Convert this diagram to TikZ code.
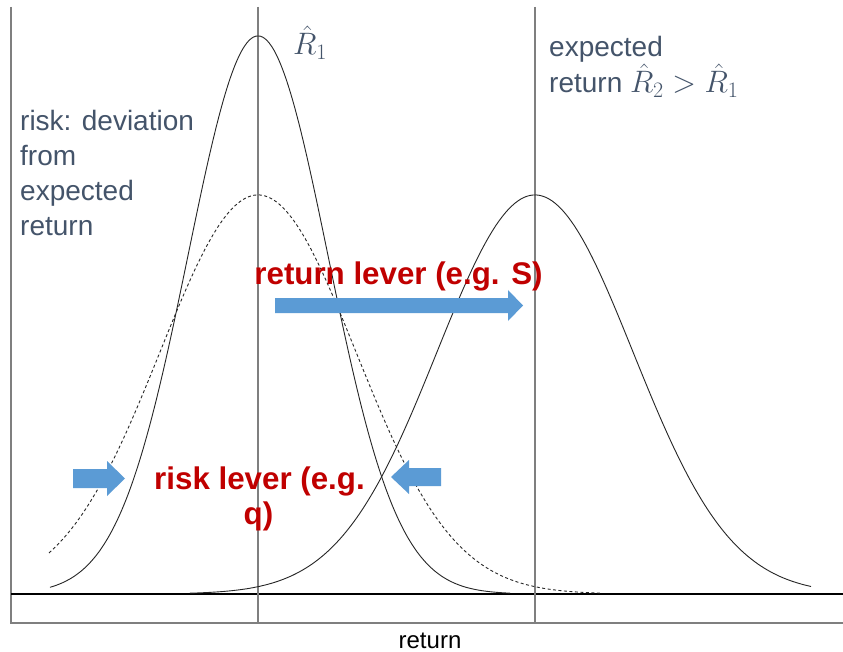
\documentclass[tikz,border=0pt]{standalone}
\usepackage{fix-cm}
\usepackage{fontspec}
\setmainfont{Liberation Sans}
\DeclareMathSizes{28}{31}{22}{16}
\definecolor{slate}{HTML}{44546A}
\definecolor{leverred}{HTML}{C00000}
\definecolor{leverblue}{HTML}{5B9BD5}
\definecolor{axisgray}{HTML}{7F7F7F}
\tikzset{
  axisline/.style={draw=axisgray, line width=1.3pt},
  baseline0/.style={draw=black, line width=1.2pt},
  curve/.style={draw=black!85, line width=0.9pt},
  dotcurve/.style={draw=black!85, line width=0.9pt, dash pattern=on 3pt off 2.5pt},
  slatetext/.style={text=slate, inner sep=0pt, font=\fontsize{28}{34}\selectfont},
  redtext/.style={text=leverred, inner sep=0pt, font=\fontsize{31.3}{36}\bfseries\selectfont},
  lever/.style={fill=leverblue, draw=none}
}
\begin{document}
\begin{tikzpicture}[x=1pt,y=-1pt]
\useasboundingbox (0,0) rectangle (843,652);
\fill[white] (0,0) rectangle (843,652);
% axes
\coordinate (lt) at (11,7);
\coordinate (lb) at (11,623);
\coordinate (rb) at (843,623);
\coordinate (b0l) at (11,594);
\coordinate (b0r) at (843,594);
\coordinate (m1t) at (258,7);
\coordinate (m1b) at (258,623);
\coordinate (m2t) at (535,7);
\coordinate (m2b) at (535,623);
\draw[axisline] (lt) -- (lb) -- (rb);
\draw[baseline0] (b0l) -- (b0r);
\draw[axisline] (m1t) -- (m1b);
\draw[axisline] (m2t) -- (m2b);
% curves
\draw[curve] plot[domain=50:510, samples=200, smooth] (\x, {594-558*exp(-0.5*((\x-258)/70)^2)});
\draw[dotcurve] plot[domain=49:600, samples=200, smooth] (\x, {594-399*exp(-0.5*((\x-258)/98)^2)});
\draw[curve] plot[domain=190:811, samples=200, smooth] (\x, {594-399*exp(-0.5*((\x-535)/98)^2)});
% blue lever arrows
\fill[lever] (275,298) -- (508,298) -- (508,290) -- (523,305.5) -- (508,321) -- (508,313) -- (275,313) -- cycle;
\fill[lever] (73,469) -- (107,469) -- (107,461) -- (125,478.5) -- (107,496) -- (107,488) -- (73,488) -- cycle;
\fill[lever] (441,468) -- (409,468) -- (409,460) -- (391,477) -- (409,494) -- (409,486) -- (441,486) -- cycle;
% texts
\node[slatetext, anchor=base west] (r1) at (293,55) {$\hat{R}_1$};
\node[slatetext, anchor=base west] (e1) at (549,57) {expected};
\node[slatetext, anchor=base west] (e2) at (549,93) {return $\hat{R}_2>\hat{R}_1$};
\node[slatetext, anchor=base west] (k1) at (20,131) {risk: deviation};
\node[slatetext, anchor=base west] (k2) at (20,166) {from};
\node[slatetext, anchor=base west] (k3) at (20,201) {expected};
\node[slatetext, anchor=base west] (k4) at (20,236) {return};
\node[redtext, anchor=base] (rl) at (398.5,285) {return lever (e.g. S)};
\node[redtext, anchor=base] (kl1) at (259.5,489) {risk lever (e.g.};
\node[redtext, anchor=base] (kl2) at (258.5,524) {q)};
\node[anchor=base, inner sep=0pt, font=\fontsize{24}{28}\selectfont] (xl) at (430,648) {return};
\end{tikzpicture}
\end{document}
